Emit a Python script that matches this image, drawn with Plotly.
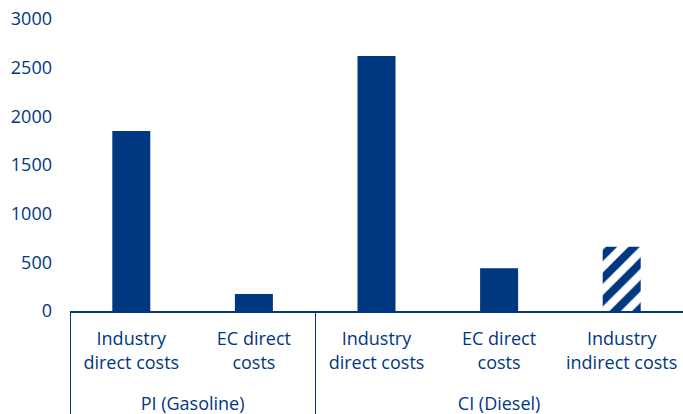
import plotly.graph_objects as go

groups = ["PI (Gasoline)", "PI (Gasoline)", "CI (Diesel)", "CI (Diesel)", "CI (Diesel)"]
categories = ["Industry<br>direct costs", "EC direct<br>costs", "Industry<br>direct costs",
              "EC direct<br>costs", "Industry<br>indirect costs"]
values = [1850, 175, 2620, 440, 660]
patterns = ["", "", "", "", "/"]
y_ticks = [0, 500, 1000, 1500, 2000, 2500, 3000]

BLUE = "#003781"

# a spacer line below each category label so the group row sits lower
cat_labels = [c + "<br><span style='font-size:26px'> </span>" for c in categories]

fig = go.Figure()
fig.add_trace(go.Bar(
    x=[groups, cat_labels],
    y=values,
    marker=dict(
        color=BLUE,
        line=dict(width=0),
        pattern=dict(shape=patterns, fgcolor=BLUE, bgcolor="white",
                     size=16, solidity=0.5, fillmode="replace"),
    ),
    showlegend=False,
    hoverinfo="y",
))

fig.update_layout(
    width=683, height=414,
    margin=dict(l=70, r=0, t=19, b=103),
    paper_bgcolor="white", plot_bgcolor="white",
    font=dict(family="Open Sans", size=18, color=BLUE),
    bargap=0.69,
    xaxis=dict(
        type="multicategory",
        showline=True, linecolor=BLUE, linewidth=1.5,
        showgrid=False, ticks="",
        ticklabelstandoff=11,
        dividercolor=BLUE, dividerwidth=1,
        tickfont=dict(size=18, color=BLUE),
    ),
    yaxis=dict(
        range=[0, 3000], tickvals=y_ticks,
        showgrid=False, zeroline=False, showline=False, ticks="",
        ticklabelstandoff=17, ticklabeloverflow="allow",
        tickfont=dict(size=18, color=BLUE),
    ),
)

fig.write_html(
    "out.html",
    config={"displayModeBar": False},
    post_script="document.body.style.margin='0';document.body.style.overflow='hidden';",
)
